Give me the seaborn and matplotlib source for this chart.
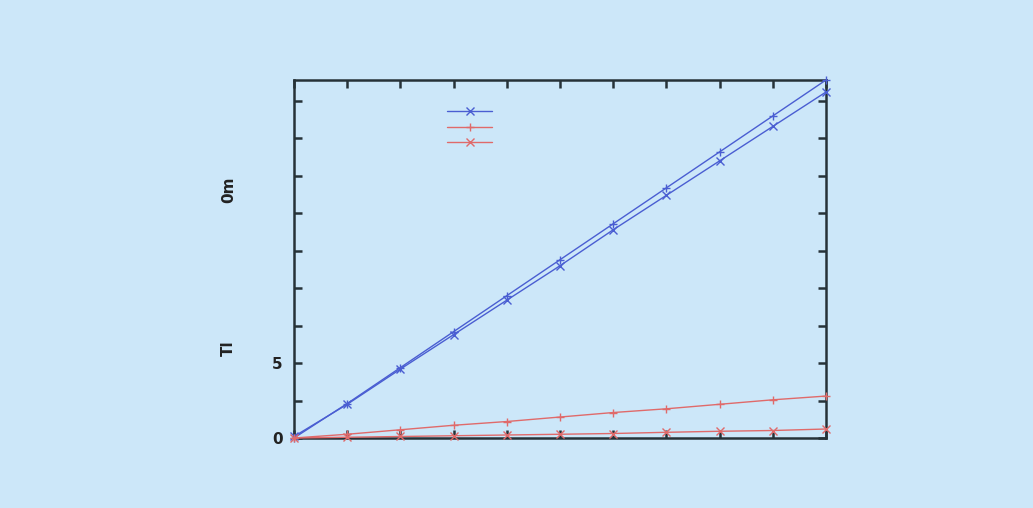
import numpy as np
import pandas as pd
import matplotlib
matplotlib.use("Agg")
import matplotlib.pyplot as plt
from matplotlib.lines import Line2D
import seaborn as sns

# ── Data ──────────────────────────────────────────────────────────────────
x_vals     = [0, 1, 2, 3, 4, 5, 6, 7, 8, 9, 10]
blue_plus  = [0.0, 2.3, 4.7, 7.1, 9.5, 11.9, 14.3, 16.7, 19.1, 21.5, 23.9]
blue_cross = [0.1, 2.25, 4.6, 6.9, 9.2, 11.5, 13.9, 16.2, 18.5, 20.8, 23.1]
red_plus   = [0.0, 0.25, 0.55, 0.85, 1.1, 1.4, 1.7, 1.95, 2.25, 2.55, 2.8]
red_cross  = [0.0, 0.05, 0.1, 0.15, 0.2, 0.25, 0.3, 0.38, 0.45, 0.5, 0.6]

y_ticks       = [0, 2.5, 5, 7.5, 10, 12.5, 15, 17.5, 20, 22.5]
y_tick_labels = ["0", "", "5", "", "", "", "", "", "", ""]

BG    = "#cce7f9"
BLUE  = "#4a5ed2"
RED   = "#e06a6a"
SPINE = "#263238"

sns.set_style("ticks")
fig = plt.figure(figsize=(10.33, 5.08), dpi=100, facecolor=BG)
ax = fig.add_axes([0.2846, 0.1378, 0.515, 0.7047])
ax.set_facecolor(BG)

series = [
    (blue_plus,  BLUE, "+"),
    (blue_cross, BLUE, "x"),
    (red_plus,   RED,  "+"),
    (red_cross,  RED,  "x"),
]
for vals, col, mk in series:
    df = pd.DataFrame({"x": x_vals, "y": vals})
    sns.lineplot(data=df, x="x", y="y", ax=ax, color=col, marker=mk,
                 markersize=6, markeredgewidth=1.0, markeredgecolor=col,
                 linewidth=1.0, clip_on=False, zorder=3)

ax.set_xlim(0, 10)
ax.set_ylim(0, 23.9)
ax.set_xticks(x_vals)
ax.set_xticklabels([])
ax.set_yticks(y_ticks)
ax.set_yticklabels(y_tick_labels, fontsize=11, fontweight="bold", color="#222")
ax.set_xlabel("")
ax.set_ylabel("")
ax.tick_params(direction="in", length=6, width=1.8, color=SPINE,
               top=True, right=True, pad=8)
for sp in ax.spines.values():
    sp.set_visible(True)
    sp.set_color(SPINE)
    sp.set_linewidth(1.8)

# legend without labels
handles = [
    Line2D([0], [0], color=BLUE, marker="x", markersize=6, linewidth=1.0),
    Line2D([0], [0], color=RED, marker="+", markersize=6, linewidth=1.0),
    Line2D([0], [0], color=RED, marker="x", markersize=6, linewidth=1.0),
]
ax.legend(handles, ["", "", ""], loc="upper left", bbox_to_anchor=(0.265, 0.965),
          frameon=False, handlelength=3.2, labelspacing=0.1, handletextpad=0,
          fontsize=10)

# partial axis title texts
fig.text(0.221, 1 - 190 / 508, "0m", rotation=90, ha="center", va="center",
         fontsize=11, fontweight="bold", color="#222")
fig.text(0.221, 1 - 348 / 508, "Tl", rotation=90, ha="center", va="center",
         fontsize=11, fontweight="bold", color="#222")

fig.savefig("out.png", dpi=100, facecolor=BG)
